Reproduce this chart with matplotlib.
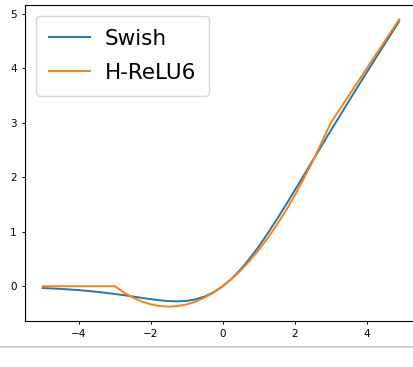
import matplotlib
matplotlib.use("Agg")
import matplotlib.pyplot as plt
from matplotlib.lines import Line2D

x_vals = [-5, -4.5, -4, -3.5, -3, -2.75, -2.5, -2.25, -2, -1.75, -1.5, -1.25,
          -1, -0.75, -0.5, -0.25, 0, 0.25, 0.5, 0.75, 1, 1.25, 1.5, 1.75, 2,
          2.5, 3, 3.5, 4, 4.5, 4.9]
swish = [-0.0335, -0.0494, -0.0719, -0.1026, -0.1423, -0.1650, -0.1896,
         -0.2142, -0.2384, -0.2590, -0.2736, -0.2784, -0.2689, -0.2397,
         -0.1888, -0.1097, 0.0, 0.1403, 0.3112, 0.5103, 0.7311, 0.9716,
         1.2264, 1.4898, 1.7616, 2.3104, 2.8577, 3.3974, 3.9281, 4.4506,
         4.8638]
hrelu6 = [0.0, 0.0, 0.0, 0.0, 0.0, -0.1146, -0.2083, -0.2813, -0.3333,
          -0.3646, -0.375, -0.3646, -0.3333, -0.2813, -0.2083, -0.1146, 0.0,
          0.1354, 0.2917, 0.4688, 0.6667, 0.8854, 1.125, 1.3854, 1.6667,
          2.2917, 3.0, 3.5, 4.0, 4.5, 4.9]
labels = ["Swish", "H-ReLU6"]

fig = plt.figure(figsize=(4.13, 3.67), dpi=100)
ax = fig.add_axes([25/413, 46/367, 392/413, 316/367])
ax.plot(x_vals, swish, color="#1f77b4", lw=1.4, label=labels[0])
ax.plot(x_vals, hrelu6, color="#ff7f0e", lw=1.4, label=labels[1])
ax.set_xticks([-4, -2, 0, 2, 4])
ax.set_yticks([0, 1, 2, 3, 4, 5])
ax.tick_params(labelsize=7.5, length=2.5, width=0.7)
for s in ax.spines.values():
    s.set_linewidth(0.8)
ax.legend(fontsize=15.5, loc="upper left", borderaxespad=0.5, borderpad=0.6,
          labelspacing=0.65, handlelength=1.9, handletextpad=0.7)
fig.add_artist(Line2D([0, 1], [1 - 347/367, 1 - 347/367], color="#c8c8c8", lw=1.2,
                      transform=fig.transFigure))
fig.savefig("out.png", dpi=100)
